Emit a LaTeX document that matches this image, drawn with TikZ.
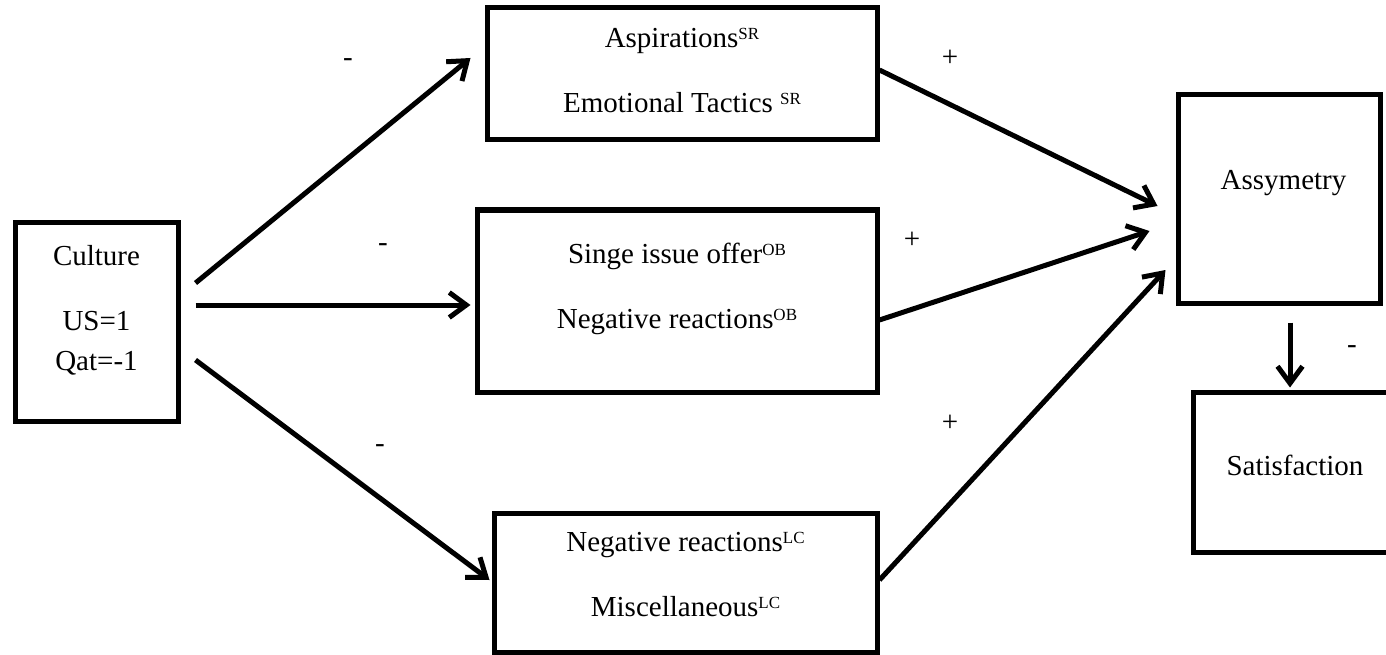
\documentclass[tikz,border=0pt]{standalone}
\usepackage{fontspec}
\setmainfont{Liberation Serif}
\usetikzlibrary{positioning,calc}
\usetikzlibrary{arrows.meta}
\tikzstyle{arrow} = [line width=5pt,-{Straight Barb[length=17pt,width=25pt]}]
\newcommand{\supx}[1]{\raisebox{8pt}{\fontsize{17}{17}\selectfont #1}}

\begin{document}
\begin{tikzpicture}[x=1pt,y=-1pt,
	varbox/.style={draw, line width=5pt, inner sep=0pt},
	boxtext/.style={align=center, inner sep=0pt, font=\fontsize{29}{40}\selectfont},
	sign/.style={inner sep=0pt, font=\fontsize{29}{40}\selectfont}]
	
	\clip (0,0) rectangle (1386,655);
	
	% BOXES
	
	\node[varbox, minimum width=163pt, minimum height=199pt] (culture) at (96.5,321.5) {};
	\node[boxtext, yshift=11.5pt] (culturetext) at (culture) {Culture\\[25pt]US=1\\Qat=-1};
	
	\node[varbox, minimum width=390pt, minimum height=132pt] (aspiration) at (682,74) {};
	\node[boxtext, yshift=3pt] (aspirationtext) at (aspiration) {Aspirations\supx{SR}\\[25pt]Emotional Tactics \supx{SR}};
	
	\node[varbox, minimum width=400pt, minimum height=182pt] (offer) at (677,301) {};
	\node[boxtext, yshift=12.4pt] (offertext) at (offer) {Singe issue offer\supx{OB}\\[25pt]Negative reactions\supx{OB}};
	
	\node[varbox, minimum width=383pt, minimum height=139pt] (reaction) at (685.5,582.5) {};
	\node[boxtext, yshift=8pt] (reactiontext) at (reaction) {Negative reactions\supx{LC}\\[25pt]Miscellaneous\supx{LC}};
	
	\node[varbox, minimum width=202pt, minimum height=208pt] (asymmetry) at (1279,199) {};
	\node[boxtext, xshift=4.5pt, yshift=15.75pt] (asymmetrytext) at (asymmetry) {Assymetry};
	
	\node[varbox, minimum width=204pt, minimum height=160pt] (satisfaction) at (1295,472) {};
	\node[boxtext, yshift=7pt] (satisfactiontext) at (satisfaction) {Satisfaction};
	
	% ARROWS
	
	\draw[arrow] ($(culture.east)+(15,-38.5)$) -- ($(aspiration.west)+(-14,-16)$);
	\draw[arrow] ($(culture.east)+(15,-16.5)$) -- ($(offer.west)+(-4,4)$);
	\draw[arrow] ($(culture.east)+(15,38.5)$) -- ($(reaction.west)+(-2,-2.5)$);
	\draw[arrow] ($(aspiration.east)+(0,-4)$) -- ($(asymmetry.west)+(-18,7)$);
	\draw[arrow] ($(offer.east)+(0,19)$) -- ($(asymmetry.west)+(-26,32)$);
	\draw[arrow] ($(reaction.east)+(0,-2.5)$) -- ($(asymmetry.west)+(-10,71)$);
	\draw[arrow] ($(asymmetry.south)+(11,17)$) -- ($(satisfaction.north)+(-5,-2)$);
	
	% SIGNS
	
	\node[sign] (signa) at (348,63) {-};
	\node[sign] (signb) at (383,248) {-};
	\node[sign] (signc) at (380,449) {-};
	\node[sign] (signd) at (1352,350) {-};
	\node[sign] (plusa) at (950,58) {+};
	\node[sign] (plusb) at (912,240) {+};
	\node[sign] (plusc) at (950,423) {+};
	
\end{tikzpicture}
\end{document}
